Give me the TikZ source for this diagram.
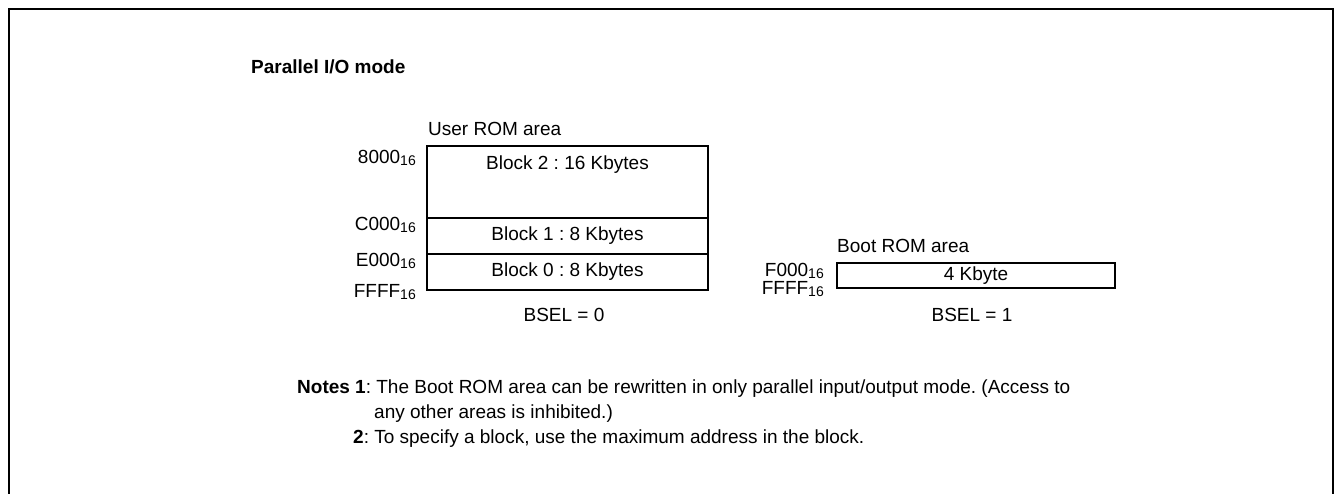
\documentclass[tikz,border=0pt]{standalone}
\usepackage{fontspec}
\setmainfont{Liberation Sans}
\usepackage{tikz}
\usetikzlibrary{positioning}
\frenchspacing
\newcommand{\hexsub}[1]{#1\raisebox{-1.5pt}{\fontsize{14}{14}\selectfont 16}}

\begin{document}
\begin{tikzpicture}[x=1pt, y=-1pt, font=\fontsize{19}{25}\selectfont,
  blockbox/.style={draw, line width=1.3pt, minimum width=281pt, inner sep=0pt, outer sep=0pt},
  addr/.style={anchor=base east, inner sep=0pt},
  txt/.style={anchor=base west, inner sep=0pt}]
  \useasboundingbox (0,0) rectangle (1339,494);
  \draw[line width=2.7pt] (9,494) -- (9,9) -- (1333,9) -- (1333,494);

  \node[txt, font=\fontsize{19}{25}\bfseries] (mode) at (251,74) {Parallel I/O mode};

  \node[txt] (user) at (428,136) {User ROM area};
  \node[blockbox, anchor=north west, minimum height=72pt] (blk2) at (427,146) {};
  \node[blockbox, minimum height=36pt, below=0pt of blk2] (blk1) {Block 1 : 8 Kbytes};
  \node[blockbox, minimum height=36pt, below=0pt of blk1] (blk0) {Block 0 : 8 Kbytes};
  \node[anchor=base, inner sep=0pt] (blk2txt) at (567.5,169.5) {Block 2 : 16 Kbytes};
  \node[addr] (a8000) at (416,164) {\hexsub{8000}};
  \node[addr] (aC000) at (416,231) {\hexsub{C000}};
  \node[addr] (aE000) at (416,267) {\hexsub{E000}};
  \node[addr] (aFFFFu) at (416,298) {\hexsub{FFFF}};
  \node[anchor=base, inner sep=0pt] (bsel0) at (564,322) {BSEL = 0};

  \node[txt] (bootarea) at (837,253) {Boot ROM area};
  \node[blockbox, anchor=north west, minimum width=278pt, minimum height=25pt] (boot) at (837,263) {4 Kbyte};
  \node[addr] (aF000) at (824,277) {\hexsub{F000}};
  \node[addr] (aFFFFb) at (824,295) {\hexsub{FFFF}};
  \node[anchor=base, inner sep=0pt] (bsel1) at (972,322) {BSEL = 1};

  \node[txt] (note1) at (297,393) {\textbf{Notes 1}: The Boot ROM area can be rewritten in only parallel input/output mode. (Access to};
  \node[txt] (note1b) at (374,418) {any other areas is inhibited.)};
  \node[txt] (note2) at (353,443) {\textbf{2}: To specify a block, use the maximum address in the block.};
\end{tikzpicture}
\end{document}
